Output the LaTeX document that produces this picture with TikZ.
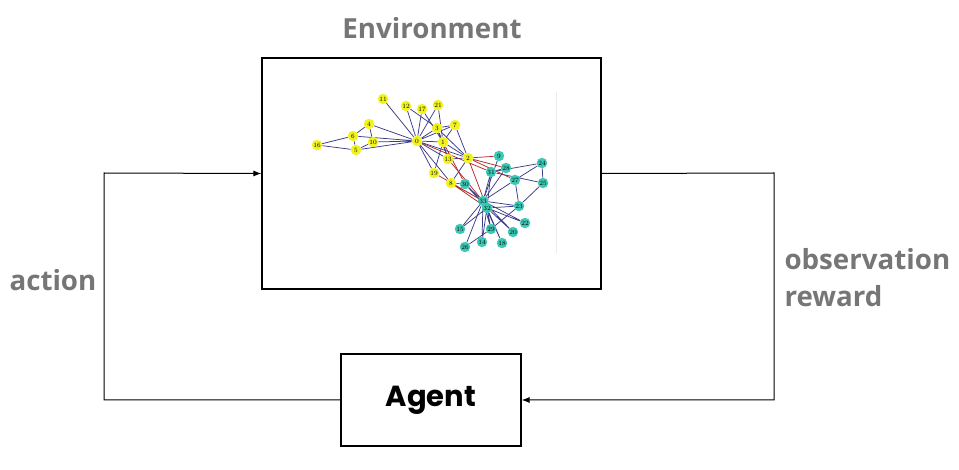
\documentclass[tikz,border=0pt]{standalone}
\usepackage{fontspec}
\usepackage{xcolor}
\usepackage{tikz}
\usetikzlibrary{arrows.meta,positioning}
\newfontfamily\labelfont{Open Sans}
\newfontfamily\agentfont{Poppins}
\definecolor{LabelGrey}{HTML}{767676}
\definecolor{EdgeBlue}{HTML}{3B3B8A}
\definecolor{CutRed}{HTML}{B22A2A}
\definecolor{ClubYellow}{HTML}{F2F21E}
\definecolor{ClubTeal}{HTML}{3EC8B6}
\pgfdeclarelayer{edges}
\pgfsetlayers{edges,main}

\begin{document}
\begin{tikzpicture}[x=1pt,y=-1pt,
  frame/.style={draw=black,line width=1.1pt},
  title/.style={font=\labelfont\bfseries\fontsize{27.7}{37}\selectfont,text=LabelGrey},
  arr/.style={-{Latex[length=8pt,width=6pt]},line width=1pt,draw=black},
  yel/.style={circle,fill=ClubYellow,inner sep=0pt,minimum size=10.5pt,font=\fontsize{6.5}{6.5}\selectfont},
  teal/.style={circle,fill=ClubTeal,inner sep=0pt,minimum size=10.5pt,font=\fontsize{6.5}{6.5}\selectfont},
  edge/.style={draw=EdgeBlue,line width=0.75pt},
  cut/.style={draw=CutRed,line width=0.75pt}
]
\useasboundingbox (0,0) rectangle (959,470);

% boxes and texts
\node[frame,minimum width=339pt,minimum height=231pt,inner sep=0pt] (env) at (431.5,173.5) {};
\node[frame,minimum width=180pt,minimum height=92pt,inner sep=0pt,font=\agentfont\bfseries\fontsize{29}{32}\selectfont] (agent) at (431,400) {Agent};
\node[title] (envtitle) at (432,28) {Environment};
\node[title,anchor=west] (action) at (6,280) {action};
\node[title,anchor=west,align=left] (obs) at (781,278) {observation\\reward};

\coordinate (left) at (104,173);
\coordinate (right) at (774,173);
\draw[arr] (agent.west) -| (left) -- (env.west);
\draw[arr] (env.east) -- (right) |- (agent.east);

% karate club graph
\draw[black!8,line width=0.5pt] (556,92) -- (556,253);
\node[yel] (n0) at (417,141) {0};
\node[yel] (n1) at (443,142) {1};
\node[yel] (n2) at (468,158) {2};
\node[yel] (n3) at (437,128) {3};
\node[yel] (n4) at (369,124) {4};
\node[yel] (n5) at (356,150) {5};
\node[yel] (n6) at (353,136) {6};
\node[yel] (n7) at (455,125) {7};
\node[yel] (n8) at (451,183) {8};
\node[teal] (n9) at (499,156) {9};
\node[yel] (n10) at (373,142) {10};
\node[yel] (n11) at (383,99) {11};
\node[yel] (n12) at (406,106) {12};
\node[yel] (n13) at (448,159) {13};
\node[teal] (n14) at (482,242) {14};
\node[teal] (n15) at (460,229) {15};
\node[yel] (n16) at (317,145) {16};
\node[yel] (n17) at (422,109) {17};
\node[teal] (n18) at (502,243) {18};
\node[yel] (n19) at (434,173) {19};
\node[teal] (n20) at (513,232) {20};
\node[yel] (n21) at (438,105) {21};
\node[teal] (n22) at (525,223) {22};
\node[teal] (n23) at (519,206) {23};
\node[teal] (n24) at (542,163) {24};
\node[teal] (n25) at (543,183) {25};
\node[teal] (n26) at (465,247) {26};
\node[teal] (n27) at (515,180) {27};
\node[teal] (n28) at (506,168) {28};
\node[teal] (n29) at (491,229) {29};
\node[teal] (n30) at (465,184) {30};
\node[teal] (n31) at (491,172) {31};
\node[teal] (n32) at (487,208) {32};
\node[teal] (n33) at (483,201) {33};

\begin{pgfonlayer}{edges}
\draw[edge] (n0) -- (n1) (n0) -- (n2) (n0) -- (n3) (n0) -- (n4) (n0) -- (n5) (n0) -- (n6) (n0) -- (n7) (n0) -- (n8) (n0) -- (n10) (n0) -- (n11) (n0) -- (n12) (n0) -- (n13) (n0) -- (n17) (n0) -- (n19) (n0) -- (n21);
\draw[edge] (n1) -- (n2) (n1) -- (n3) (n1) -- (n7) (n1) -- (n13) (n1) -- (n17) (n1) -- (n19) (n1) -- (n21);
\draw[edge] (n2) -- (n3) (n2) -- (n7) (n2) -- (n8) (n2) -- (n13);
\draw[edge] (n3) -- (n7) (n3) -- (n12) (n3) -- (n13);
\draw[edge] (n4) -- (n6) (n4) -- (n10) (n5) -- (n6) (n5) -- (n10) (n5) -- (n16) (n6) -- (n16);
\draw[edge] (n9) -- (n33) (n14) -- (n32) (n14) -- (n33) (n15) -- (n32) (n15) -- (n33) (n18) -- (n32) (n18) -- (n33);
\draw[edge] (n20) -- (n32) (n20) -- (n33) (n22) -- (n32) (n22) -- (n33);
\draw[edge] (n23) -- (n25) (n23) -- (n27) (n23) -- (n29) (n23) -- (n32) (n23) -- (n33);
\draw[edge] (n24) -- (n25) (n24) -- (n27) (n24) -- (n31) (n25) -- (n31);
\draw[edge] (n26) -- (n29) (n26) -- (n33) (n27) -- (n33) (n28) -- (n31) (n28) -- (n33);
\draw[edge] (n29) -- (n32) (n29) -- (n33) (n30) -- (n32) (n30) -- (n33) (n31) -- (n32) (n31) -- (n33) (n32) -- (n33);
\draw[cut] (n0) -- (n31) (n1) -- (n30) (n2) -- (n9) (n2) -- (n27) (n2) -- (n28) (n2) -- (n32);
\draw[cut] (n8) -- (n30) (n8) -- (n32) (n8) -- (n33) (n13) -- (n33) (n19) -- (n33);
\end{pgfonlayer}
\end{tikzpicture}
\end{document}
